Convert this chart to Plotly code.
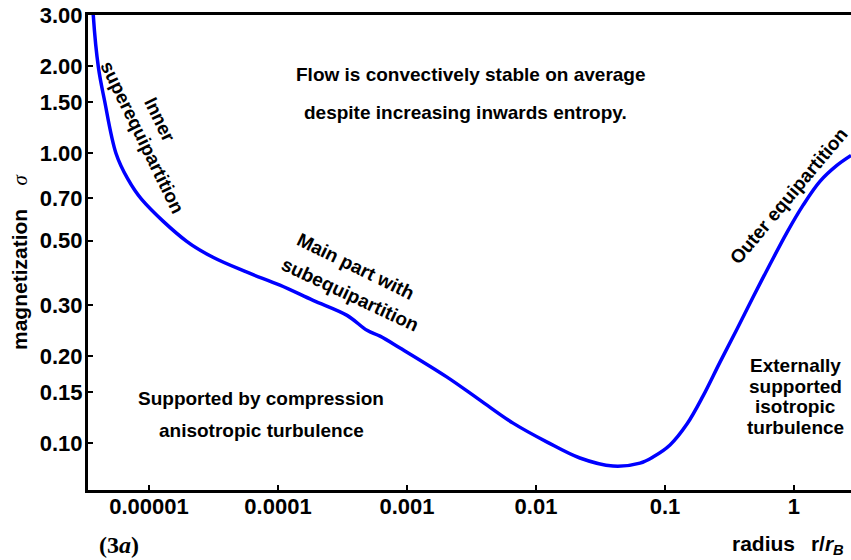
import plotly.graph_objects as go

# ---- data ----
radius = [3.65e-6, 3.70e-6, 4.05e-6, 4.52e-6, 5.55e-6, 6.81e-6, 8.77e-6,
          1.96e-5, 3.13e-5, 5.75e-5, 1.035e-4, 1.87e-4, 3.43e-4, 4.90e-4,
          6.18e-4, 8.83e-4, 2.03e-3, 3.68e-3, 6.64e-3, 1.22e-2, 2.19e-2,
          3.95e-2, 6.40e-2, 8.07e-2, 0.1094, 0.148, 0.197, 0.267, 0.361, 0.481,
          0.652, 0.883, 1.174, 1.59, 2.15, 2.77]
sigma = [3.5, 2.99, 1.985, 1.523, 1.0, 0.820, 0.694,
         0.497, 0.438, 0.389, 0.351, 0.311, 0.276, 0.245,
         0.234, 0.213, 0.1693, 0.1407, 0.1172, 0.1008, 0.0888,
         0.0833, 0.0853, 0.0895, 0.0985, 0.1163, 0.1452, 0.1903, 0.2472, 0.3188,
         0.4143, 0.534, 0.6616, 0.8008, 0.909, 0.984]

x_tickvals = [1e-5, 1e-4, 1e-3, 1e-2, 0.1, 1]
x_ticktext = ["0.00001", "0.0001", "0.001", "0.01", "0.1", "1"]
y_tickvals = [0.10, 0.15, 0.20, 0.30, 0.50, 0.70, 1.00, 1.50, 2.00, 3.00]
y_ticktext = ["0.10", "0.15", "0.20", "0.30", "0.50", "0.70", "1.00", "1.50", "2.00", "3.00"]

# ---- layout geometry ----
W, H = 851, 560
L, R, T, B = 88, 0, 15, 70
PW, PH = W - L - R, H - T - B


def px(x):
    return (x - L) / PW


def py(y):
    return (H - B - y) / PH


SANS = "Liberation Sans, Arial, Helvetica, sans-serif"
SERIF = "Liberation Serif, Times New Roman, serif"

fig = go.Figure()
fig.add_trace(go.Scatter(x=radius, y=sigma, mode="lines",
                         line=dict(color="#0000ff", width=3.5, shape="spline", smoothing=1.0),
                         hoverinfo="skip", showlegend=False))

axis_common = dict(showgrid=False, zeroline=False, showline=True, linecolor="black",
                   linewidth=3, ticks="inside", ticklen=5, tickwidth=2, tickcolor="black",
                   tickfont=dict(family=SANS, size=22, color="black", weight="bold"))

fig.update_xaxes(type="log", range=[-5.473, 0.442], tickvals=x_tickvals, ticktext=x_ticktext,
                 mirror=True, ticklabelstandoff=-5, **axis_common)
fig.update_yaxes(type="log", range=[-1.162, 0.478], tickvals=y_tickvals, ticktext=y_ticktext,
                 mirror=False, ticklabelstandoff=-2, **axis_common)


def note(text, x, y, size=19, angle=0, family=SANS, weight="bold"):
    fig.add_annotation(text=text, x=px(x), y=py(y), xref="paper", yref="paper",
                       showarrow=False, xanchor="center", yanchor="middle",
                       textangle=angle,
                       font=dict(family=family, size=size, color="black", weight=weight))


note("Flow is convectively stable on average", 471, 75)
note("despite increasing inwards entropy.", 465, 112)
note("Supported by compression", 261, 398)
note("anisotropic turbulence", 261, 430)
note("Externally", 795, 365)
note("supported", 795, 386)
note("isotropic", 795, 406)
note("turbulence", 795, 427)
note("Inner", 160, 119, angle=64)
note("superequipartition", 142.5, 137.5, angle=64)
note("Main part with", 356, 266, angle=26)
note("subequipartition", 350, 294, angle=25)
note("Outer equipartition", 788, 196, angle=-50)

# axis titles
nb = "\u00a0"
note("magnetization" + nb * 4 + '<span style="font-family:Liberation Serif;font-weight:normal"><i>σ</i></span>',
     20, 262, size=21, angle=-90)
note("radius" + nb * 2 + "\u2009" + 'r/<i>r</i><sub><i>B</i></sub>', 788, 545, size=21)
note('(3<i>a</i>)', 119, 545, size=24, family=SERIF)

fig.update_layout(width=W, height=H, margin=dict(l=L, r=R, t=T, b=B),
                  paper_bgcolor="white", plot_bgcolor="white", showlegend=False)

fig.write_html("out.html")
